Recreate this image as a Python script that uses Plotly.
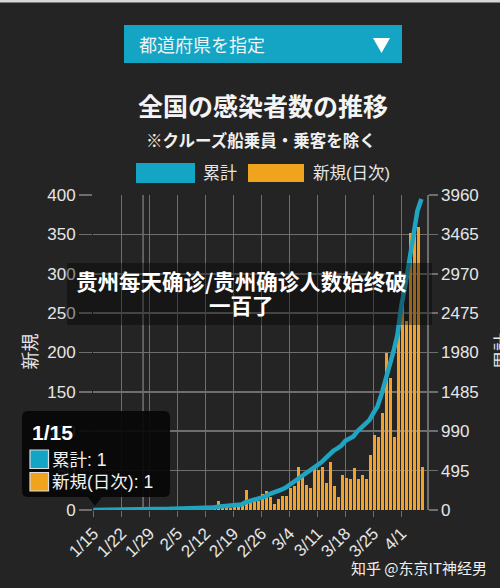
import pandas as pd
import plotly.graph_objects as go

# ---------------- data ----------------
start_date = "2020-01-15"
end_date = "2020-04-06"
dates = pd.date_range(start_date, end_date, freq="D")

daily_new = [
    1, 0, 0, 0, 0, 0, 0, 0, 0, 1,
    1, 1, 0, 1, 1, 2, 2, 3, 3, 1,
    2, 0, 0, 1, 2, 0, 1, 1, 3, 3,
    2, 11, 3, 4, 3, 5, 5, 8, 26, 13,
    11, 12, 20, 24, 17, 8, 14, 18, 18, 28,
    31, 55, 46, 32, 28, 53, 51, 55, 34, 61,
    30, 17, 44, 41, 39, 53, 39, 44, 39, 70,
    95, 93, 123, 199, 168, 93, 240, 266, 240, 352,
    365, 360, 55,
]

cumulative = [
    1, 1, 1, 1, 1, 1, 1, 1, 1, 2,
    3, 4, 4, 4, 5, 7, 8, 11, 14, 15,
    17, 17, 17, 18, 20, 20, 21, 22, 25, 28,
    30, 40, 44, 48, 52, 56, 62, 70, 95, 110,
    120, 132, 150, 172, 200, 215, 232, 255, 280, 315,
    350, 395, 430, 460, 490, 530, 570, 600, 650, 705,
    745, 775, 810, 870, 900, 925, 990, 1040, 1080, 1130,
    1220, 1300, 1450, 1620, 1800, 1990, 2200, 2570, 2830, 3145,
    3470, 3760, 3910,
]

x_tick_dates = ["2020-01-15", "2020-01-22", "2020-01-29", "2020-02-05",
                "2020-02-12", "2020-02-19", "2020-02-26", "2020-03-04",
                "2020-03-11", "2020-03-18", "2020-03-25", "2020-04-01"]
x_tick_text = ["1/15", "1/22", "1/29", "2/5", "2/12", "2/19", "2/26",
               "3/4", "3/11", "3/18", "3/25", "4/1"]

left_ticks = [0, 50, 100, 150, 200, 250, 300, 350, 400]
right_ticks = [0, 495, 990, 1485, 1980, 2475, 2970, 3465, 3960]

# ---------------- styling ----------------
BG = "#242424"
TEAL = "#1fa5c2"
TEAL_BOX = "#14a5c4"
ORANGE = "#f2a22c"
GRID = "#6e6e6e"
TXT = "#e6e6e6"
NUMFONT = "Liberation Sans, Noto Sans CJK JP"
JPFONT = "Noto Sans CJK JP"

W, H = 500, 588
PL, PR, PT, PB = 93, 427, 195, 510  # plot area in px


def px(x):
    return (x - PL) / (PR - PL)


def py(y):
    return (PB - y) / (PB - PT)


DAY_MS = 86400000

fig = go.Figure()
fig.add_trace(go.Bar(
    x=dates, y=daily_new, name="新規(日次)",
    marker=dict(color=ORANGE, line=dict(width=0)),
    width=0.76 * DAY_MS, offset=0,
    yaxis="y", hoverinfo="skip",
))
fig.add_trace(go.Scatter(
    x=dates, y=cumulative, name="累計", mode="lines",
    line=dict(color=TEAL, width=4.5),
    yaxis="y2", hoverinfo="skip",
))

shapes = []
annotations = []

# thin light strip at top
shapes.append(dict(type="rect", xref="paper", yref="paper",
                   x0=px(0), x1=px(W), y0=py(0), y1=py(2.5),
                   fillcolor="#d8d8d8", line=dict(width=0), layer="below"))

# extra gridline
shapes.append(dict(type="line", xref="x", yref="paper",
                   x0="2020-01-27 10:00", x1="2020-01-27 10:00", y0=0, y1=1,
                   line=dict(color=GRID, width=1.6), layer="below"))

# dropdown box
shapes.append(dict(type="rect", xref="paper", yref="paper",
                   x0=px(124), x1=px(402), y0=py(63), y1=py(25),
                   fillcolor=TEAL_BOX, line=dict(width=0)))
annotations.append(dict(xref="paper", yref="paper", x=px(137), y=py(44),
                        text="都道府県を指定", showarrow=False, xanchor="left",
                        yanchor="middle", font=dict(family=JPFONT, size=18, color="#f2f2f2")))
shapes.append(dict(type="path", xref="paper", yref="paper",
                   path=f"M {px(373)} {py(38)} L {px(390)} {py(38)} L {px(381.5)} {py(53)} Z",
                   fillcolor="#ffffff", line=dict(width=0)))

# title + subtitle
annotations.append(dict(xref="paper", yref="paper", x=px(263), y=py(105),
                        text="<b>全国の感染者数の推移</b>", showarrow=False,
                        xanchor="center", yanchor="middle",
                        font=dict(family=JPFONT, size=25, color="#f4f4f4")))
annotations.append(dict(xref="paper", yref="paper", x=px(261), y=py(140),
                        text="<b>※クルーズ船乗員・乗客を除く</b>", showarrow=False,
                        xanchor="center", yanchor="middle",
                        font=dict(family=JPFONT, size=16.5, color="#f0f0f0")))

# custom legend
shapes.append(dict(type="rect", xref="paper", yref="paper",
                   x0=px(136), x1=px(195), y0=py(183), y1=py(163),
                   fillcolor=TEAL_BOX, line=dict(width=0)))
annotations.append(dict(xref="paper", yref="paper", x=px(201), y=py(173),
                        text="累計", showarrow=False, xanchor="left", yanchor="middle",
                        font=dict(family=NUMFONT, size=17, color=TXT)))
shapes.append(dict(type="rect", xref="paper", yref="paper",
                   x0=px(248), x1=px(304), y0=py(182), y1=py(164),
                   fillcolor="#f0a31c", line=dict(width=0)))
annotations.append(dict(xref="paper", yref="paper", x=px(311), y=py(173),
                        text="新規(日次)", showarrow=False, xanchor="left", yanchor="middle",
                        font=dict(family=NUMFONT, size=16.5, color=TXT)))

# axis titles
annotations.append(dict(xref="paper", yref="paper", x=px(28.5), y=py(352),
                        text="新規", showarrow=False, textangle=-90,
                        xanchor="center", yanchor="middle",
                        font=dict(family=JPFONT, size=18, color=TXT)))
annotations.append(dict(xref="paper", yref="paper", x=px(501), y=py(351),
                        text="累計", showarrow=False, textangle=-90,
                        xanchor="center", yanchor="middle",
                        font=dict(family=JPFONT, size=18, color=TXT)))

# tooltip
r = 6
tx0, tx1, ty0, ty1 = 22, 170, 411, 497
tip = (f"M {px(tx0 + r)} {py(ty0)} L {px(tx1 - r)} {py(ty0)} "
       f"Q {px(tx1)} {py(ty0)} {px(tx1)} {py(ty0 + r)} "
       f"L {px(tx1)} {py(ty1 - r)} Q {px(tx1)} {py(ty1)} {px(tx1 - r)} {py(ty1)} "
       f"L {px(102)} {py(ty1)} L {px(95)} {py(506)} L {px(88)} {py(ty1)} "
       f"L {px(tx0 + r)} {py(ty1)} Q {px(tx0)} {py(ty1)} {px(tx0)} {py(ty1 - r)} "
       f"L {px(tx0)} {py(ty0 + r)} Q {px(tx0)} {py(ty0)} {px(tx0 + r)} {py(ty0)} Z")
shapes.append(dict(type="path", xref="paper", yref="paper", path=tip,
                   fillcolor="rgba(8,8,8,0.93)", line=dict(width=0)))
annotations.append(dict(xref="paper", yref="paper", x=px(30), y=py(432),
                        text="<b>1/15</b>", showarrow=False, xanchor="left", yanchor="middle",
                        font=dict(family=NUMFONT, size=21, color="#ffffff")))
shapes.append(dict(type="rect", xref="paper", yref="paper",
                   x0=px(30), x1=px(48.5), y0=py(468.5), y1=py(450),
                   fillcolor=TEAL_BOX, line=dict(color="#dddddd", width=1.2)))
annotations.append(dict(xref="paper", yref="paper", x=px(50), y=py(459.5),
                        text="累計: 1", showarrow=False, xanchor="left", yanchor="middle",
                        font=dict(family=NUMFONT, size=17.5, color="#f2f2f2")))
shapes.append(dict(type="rect", xref="paper", yref="paper",
                   x0=px(30), x1=px(48.5), y0=py(491), y1=py(472.5),
                   fillcolor="#f0a31c", line=dict(color="#dddddd", width=1.2)))
annotations.append(dict(xref="paper", yref="paper", x=px(50), y=py(482),
                        text="新規(日次): 1", showarrow=False, xanchor="left", yanchor="middle",
                        font=dict(family=NUMFONT, size=17.5, color="#f2f2f2")))

# overlay band with Chinese caption
shapes.append(dict(type="rect", xref="paper", yref="paper",
                   x0=px(67), x1=px(432), y0=py(325), y1=py(263),
                   fillcolor="rgba(0,0,0,0.38)", line=dict(width=0), layer="above"))
annotations.append(dict(xref="paper", yref="paper", x=px(241), y=py(280),
                        text="<b>贵州每天确诊/贵州确诊人数始终破</b>", showarrow=False,
                        xanchor="center", yanchor="middle",
                        font=dict(family="Noto Sans CJK SC", size=21.5, color="#ffffff")))
annotations.append(dict(xref="paper", yref="paper", x=px(241), y=py(304),
                        text="<b>一百了</b>", showarrow=False,
                        xanchor="center", yanchor="middle",
                        font=dict(family="Noto Sans CJK SC", size=21.5, color="#ffffff")))

# watermark
annotations.append(dict(xref="paper", yref="paper", x=px(349), y=py(567),
                        text="知乎 @东京IT神经男", showarrow=False,
                        xanchor="left", yanchor="middle",
                        font=dict(family="Noto Sans CJK SC", size=15, color="#f0f0f0")))

fig.update_layout(
    width=W, height=H, autosize=False,
    paper_bgcolor=BG, plot_bgcolor=BG,
    margin=dict(l=PL, r=W - PR, t=PT, b=H - PB, pad=0),
    showlegend=False, hovermode=False,
    bargap=0,
    shapes=shapes, annotations=annotations,
    xaxis=dict(
        type="date",
        range=["2020-01-14 21:36", "2020-04-07 09:36"],
        tickmode="array", tickvals=x_tick_dates, ticktext=x_tick_text,
        tickangle=-45, ticks="outside", ticklen=6, tickcolor=GRID, tickwidth=1.6,
        showgrid=True, gridcolor=GRID, gridwidth=1.6,
        zeroline=False, showline=False,
        tickfont=dict(family=NUMFONT, size=17, color=TXT),
    ),
    yaxis=dict(
        range=[0, 400], tickmode="array", tickvals=left_ticks,
        ticks="outside", ticklen=13, tickcolor=GRID, tickwidth=1.6,
        showgrid=True, gridcolor=GRID, gridwidth=1.6,
        zeroline=False, showline=False,
        tickfont=dict(family=NUMFONT, size=17, color=TXT),
    ),
    yaxis2=dict(
        range=[0, 3960], tickmode="array", tickvals=right_ticks,
        overlaying="y", side="right",
        ticks="outside", ticklen=9, tickcolor=GRID, tickwidth=1.6,
        showgrid=False, zeroline=False,
        showline=True, linecolor=GRID, linewidth=1.6,
        tickfont=dict(family=NUMFONT, size=17, color=TXT),
    ),
)

fig.write_html(
    "out.html",
    config={"displayModeBar": False, "staticPlot": True},
    post_script="document.body.style.margin='0';document.body.style.padding='0';"
                "document.body.style.background='#242424';",
)
